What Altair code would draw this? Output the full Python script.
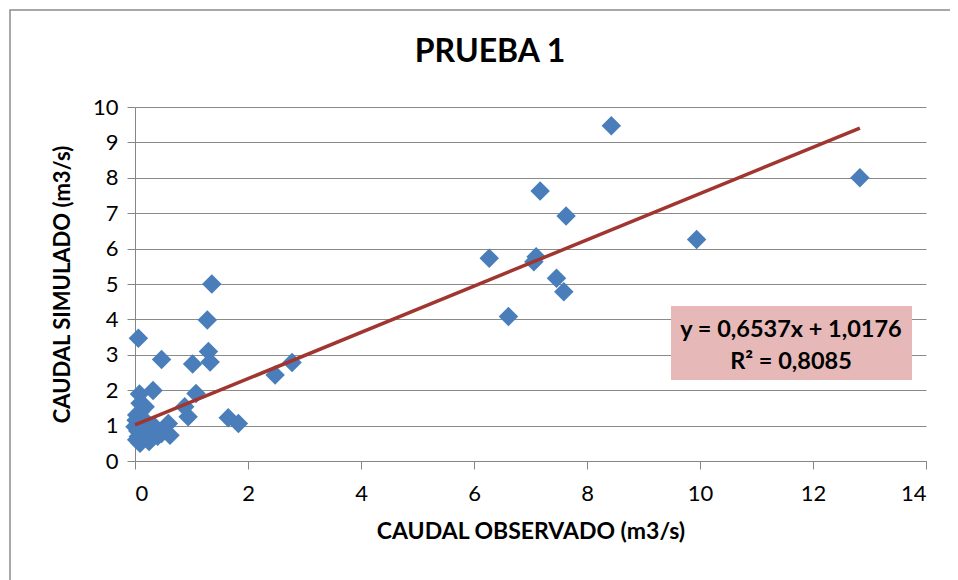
import altair as alt
import pandas as pd

observado = [8.43, 12.83, 7.17, 7.63, 9.94, 6.27, 7.10, 7.06, 7.46, 7.59, 6.61,
             1.36, 1.28, 0.06, 1.30, 1.33, 0.47, 1.02, 2.48, 2.78, 0.32, 0.08,
             1.08, 0.88, 0.94, 1.65, 1.83,
             0.09, 0.18, 0.03, 0.10, 0.00, 0.06, 0.09, 0.27, 0.35, 0.47, 0.62,
             0.59, 0.02, 0.05, 0.15, 0.20, 0.12, 0.40, 0.25, 0.03]
simulado = [9.47, 8.00, 7.63, 6.92, 6.26, 5.73, 5.77, 5.63, 5.16, 4.78, 4.08,
            5.00, 3.98, 3.47, 3.09, 2.80, 2.87, 2.74, 2.43, 2.78, 1.99, 1.89,
            1.91, 1.53, 1.25, 1.22, 1.06,
            1.63, 1.53, 1.30, 1.40, 0.97, 0.69, 0.50, 0.73, 0.97, 0.78, 0.73,
            1.06, 1.15, 0.85, 0.90, 1.10, 0.60, 0.70, 0.55, 0.60]

slope = 0.6537
intercept = 1.0176
eq_lines = ["y = 0,6537x + 1,0176", "R² = 0,8085"]
title_text = ["PRUEBA 1"]

x_ticks = [0, 2, 4, 6, 8, 10, 12, 14]
y_ticks = [0, 1, 2, 3, 4, 5, 6, 7, 8, 9, 10]

FONT = "Lato"
W, H = 791, 354

df = pd.DataFrame({"obs": observado, "sim": simulado})
x0, x1 = min(observado), max(observado)
trend = pd.DataFrame({"obs": [x0, x1], "sim": [slope * x0 + intercept, slope * x1 + intercept]})

xs = alt.Scale(domain=[0, 14], nice=False, zero=True)
ys = alt.Scale(domain=[0, 10], nice=False, zero=True)

X = alt.X("obs:Q", scale=xs, title="CAUDAL OBSERVADO (m3/s)",
          axis=alt.Axis(values=x_ticks, format="d", grid=False, tickSize=8, labelPadding=14,
                        titlePadding=16, titleFontSize=23, domainColor="#868686",
                        tickColor="#868686", labelOverlap=False))
Y = alt.Y("sim:Q", scale=ys, title="CAUDAL SIMULADO (m3/s)",
          axis=alt.Axis(values=y_ticks, format="d", grid=True, gridColor="#8a8a8a", tickSize=8,
                        labelPadding=9, titlePadding=18, titleFontSize=22,
                        domainColor="#868686", tickColor="#868686", labelOverlap=False))

frame = alt.Chart(pd.DataFrame({"a": [0]})).mark_rect(
    fillOpacity=0, stroke="#8c8c8c", strokeWidth=1.5
).encode(x=alt.value(-125), x2=alt.value(900), y=alt.value(-97), y2=alt.value(600))

points = alt.Chart(df).mark_point(
    shape="diamond", filled=True, size=380, color="#4A7EBB", opacity=1
).encode(x=X, y=Y)

line = alt.Chart(trend).mark_line(color="#A0362F", strokeWidth=3.5).encode(x=X, y=Y)

box = alt.Chart(pd.DataFrame({"a": [0]})).mark_rect(fill="#E6B9B8").encode(
    x=alt.value(536), x2=alt.value(777), y=alt.value(199), y2=alt.value(273)
)

txt_df = pd.DataFrame({"t": eq_lines})
txt1 = alt.Chart(txt_df.iloc[[0]]).mark_text(
    font=FONT, fontSize=23.5, fontWeight="bold", color="black", align="center", baseline="middle"
).encode(text="t:N", x=alt.value(656), y=alt.value(223))
txt2 = alt.Chart(txt_df.iloc[[1]]).mark_text(
    font=FONT, fontSize=23.5, fontWeight="bold", color="black", align="center", baseline="middle"
).encode(text="t:N", x=alt.value(656), y=alt.value(255))

title = alt.Chart(pd.DataFrame({"t": title_text})).mark_text(
    font=FONT, fontSize=32, fontWeight="bold", color="black", align="center", baseline="middle"
).encode(text="t:N", x=alt.value(355), y=alt.value(-55))

chart = alt.layer(frame, points, line, box, txt1, txt2, title).properties(
    width=W, height=H,
    autosize=alt.AutoSizeParams(type="none"),
    padding={"left": 127, "top": 99, "right": 24, "bottom": 120},
).configure_view(stroke=None).configure_axis(
    labelFont=FONT, labelFontSize=22, labelColor="black",
    titleFont=FONT, titleFontWeight="bold", titleColor="black",
)

chart.save("out.html", embed_options={"renderer": "svg", "actions": False})
